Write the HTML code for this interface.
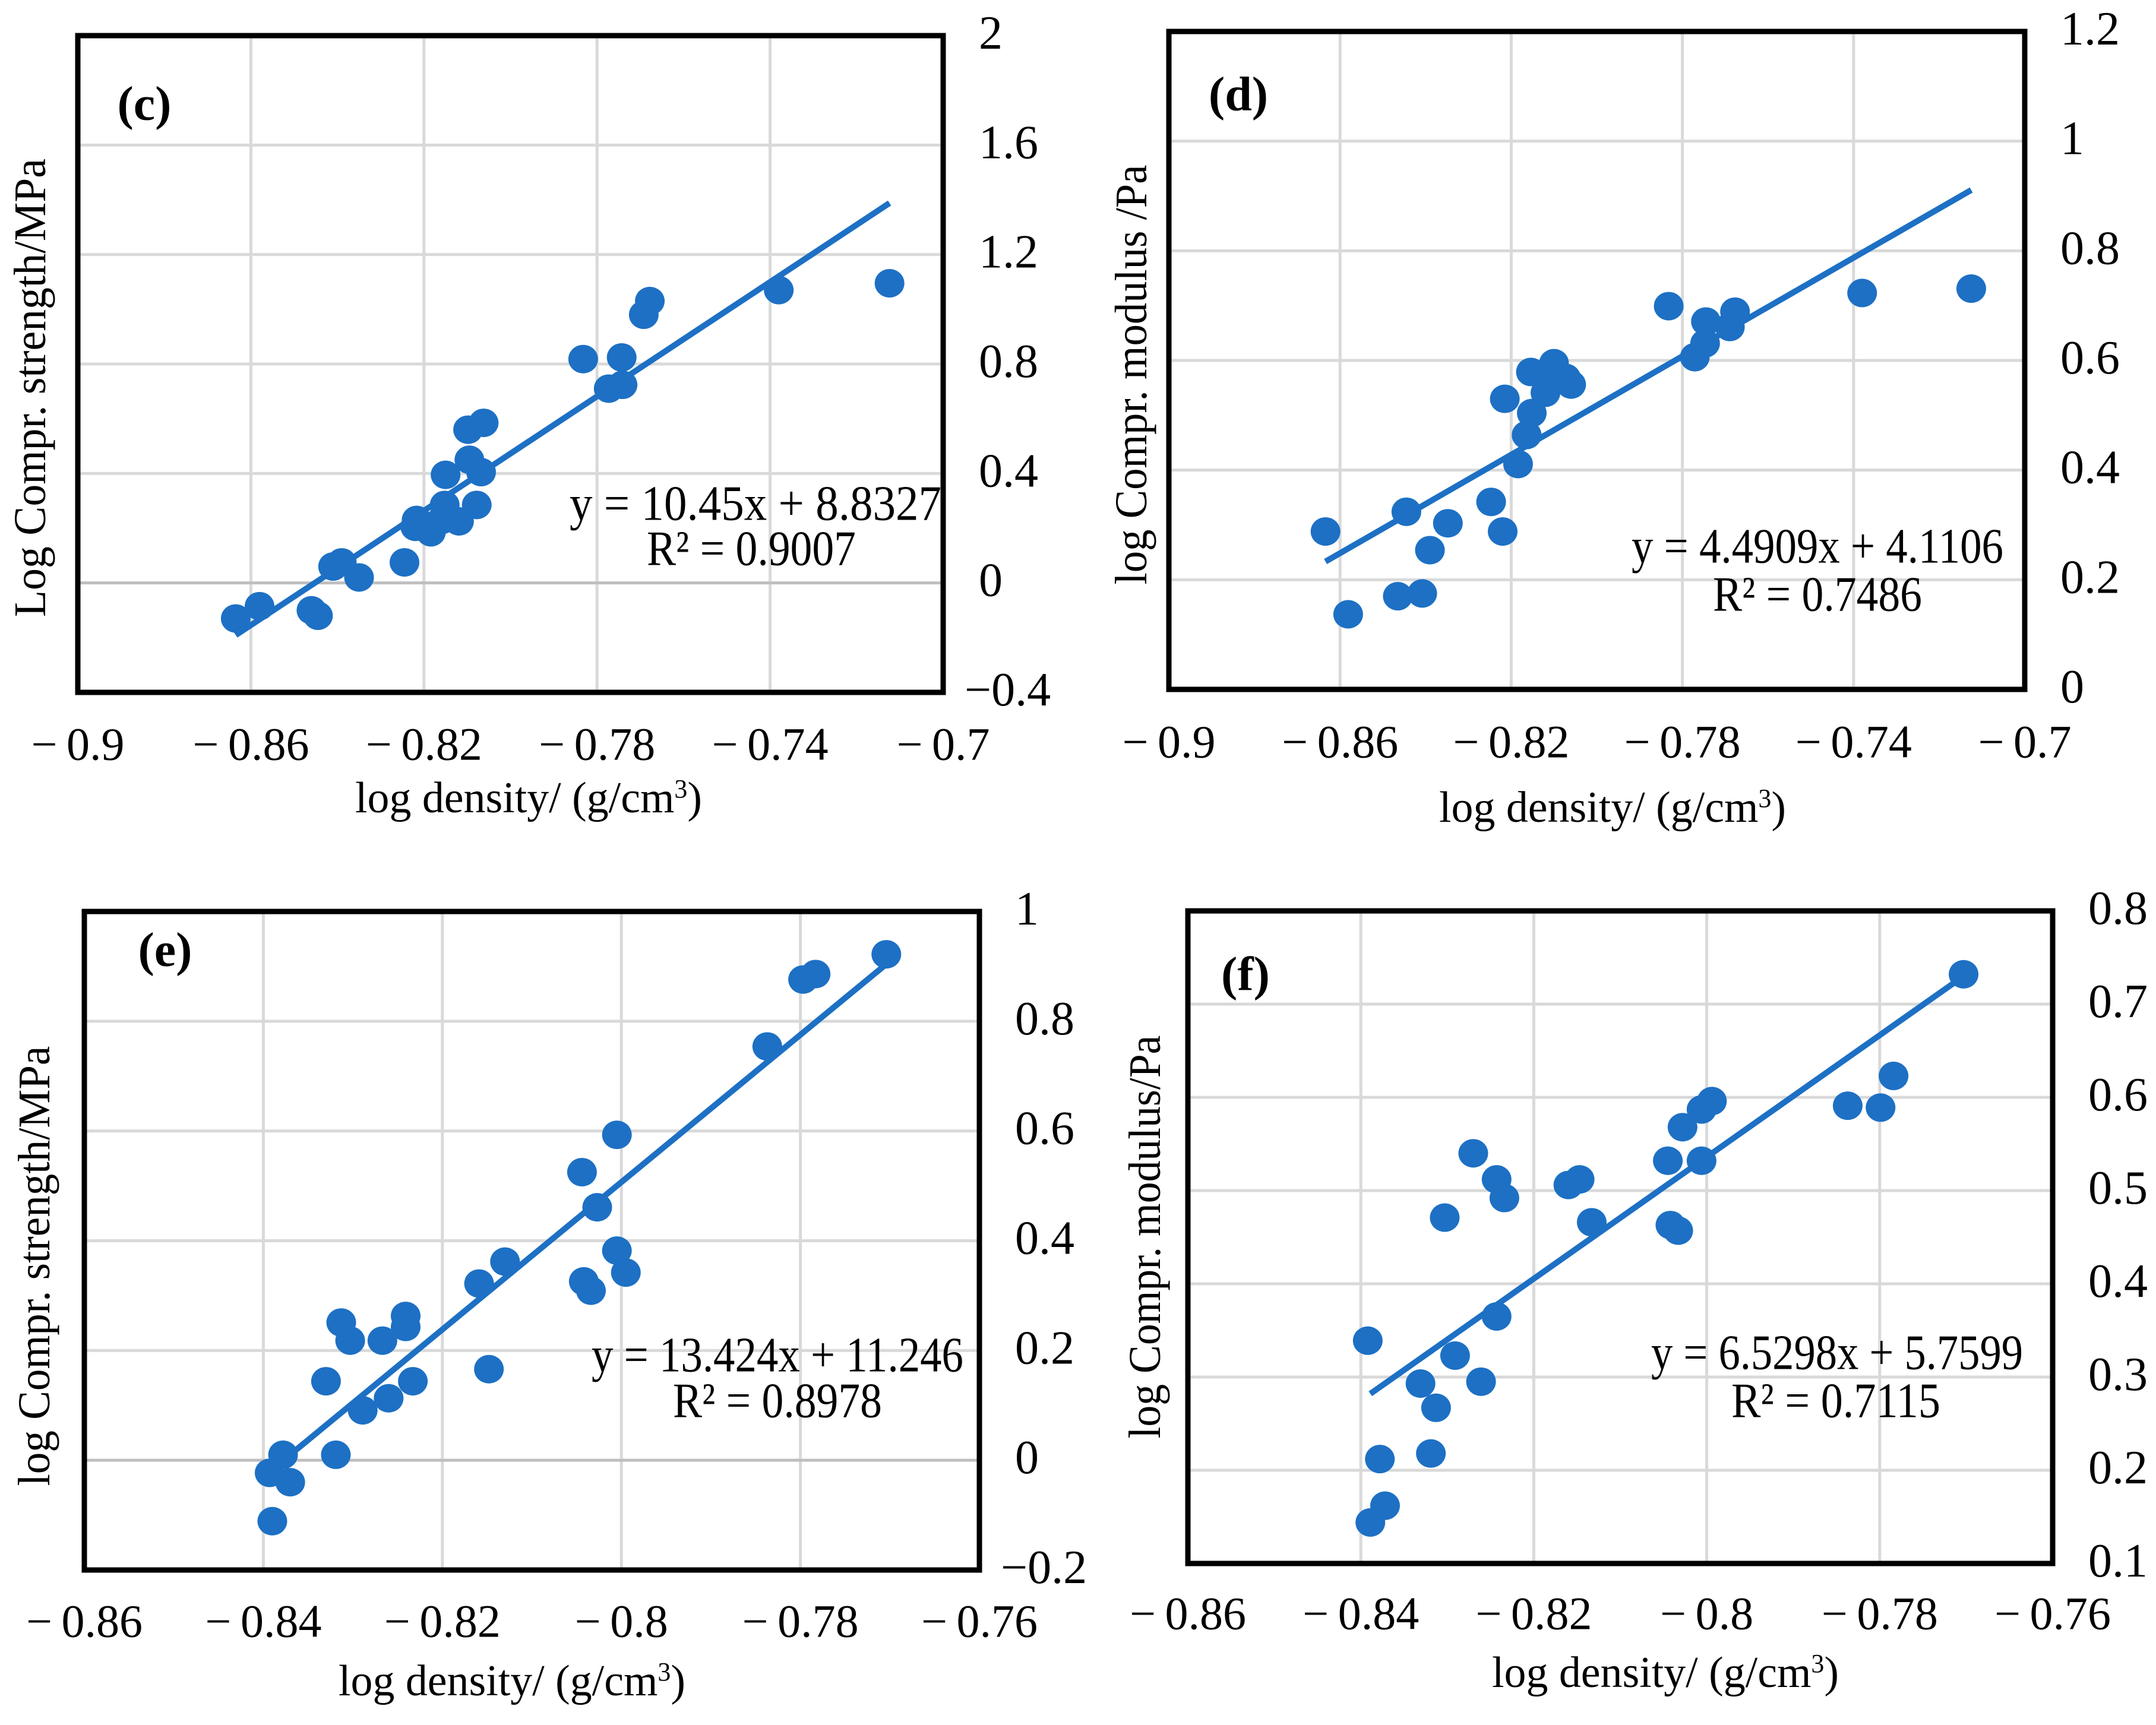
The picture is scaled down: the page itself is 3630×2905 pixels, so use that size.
<!DOCTYPE html>
<html><head><meta charset="utf-8"><style>
html,body{margin:0;padding:0;background:#fff;}
svg{display:block;font-family:"Liberation Serif",serif;}
text{font-family:"Liberation Serif",serif;fill:#000;}
</style></head><body>
<svg id="fig" width="3630" height="2905" viewBox="0 0 3630 2905" font-family="Liberation Serif, serif" xmlns="http://www.w3.org/2000/svg"></svg>
<script>
// ---- Data ----
const cX=[-0.8635,-0.858,-0.846,-0.8445,-0.841,-0.839,-0.835,-0.8245,-0.8217,-0.822,-0.8184,-0.8152,-0.8159,-0.815,-0.8119,-0.8078,-0.8095,-0.8068,-0.8098,-0.8062,-0.7832,-0.7743,-0.7773,-0.7741,-0.7692,-0.7678,-0.738,-0.7124];
const cY=[-0.13,-0.085,-0.10,-0.12,0.06,0.075,0.02,0.075,0.23,0.205,0.185,0.285,0.23,0.395,0.225,0.285,0.45,0.405,0.56,0.585,0.818,0.824,0.71,0.724,0.98,1.03,1.07,1.095];
const cFit=[10.45,8.8327,-0.8635,-0.7124];
const cXTicks=[-0.9,-0.86,-0.82,-0.78,-0.74,-0.7];
const cYTicks=[-0.4,0,0.4,0.8,1.2,1.6,2];
const cYTickLabels=["\u22120.4","0","0.4","0.8","1.2","1.6","2"];

const dX=[-0.8634,-0.8581,-0.8465,-0.8408,-0.8445,-0.839,-0.8348,-0.8247,-0.822,-0.8215,-0.8184,-0.8164,-0.8152,-0.8154,-0.812,-0.81,-0.8107,-0.8072,-0.806,-0.7832,-0.7771,-0.7745,-0.7747,-0.7689,-0.7677,-0.738,-0.7125];
const dY=[0.288,0.137,0.170,0.175,0.324,0.254,0.303,0.342,0.288,0.530,0.411,0.464,0.504,0.579,0.541,0.595,0.571,0.568,0.556,0.699,0.606,0.671,0.631,0.661,0.689,0.723,0.731];
const dFit=[4.4909,4.1106,-0.8634,-0.7125];
const dXTicks=[-0.9,-0.86,-0.82,-0.78,-0.74,-0.7];
const dYTicks=[0,0.2,0.4,0.6,0.8,1,1.2];
const dYTickLabels=["0","0.2","0.4","0.6","0.8","1","1.2"];

const eX=[-0.8390,-0.8393,-0.8378,-0.837,-0.8319,-0.833,-0.8313,-0.8303,-0.8289,-0.8267,-0.8260,-0.8241,-0.8241,-0.8233,-0.8159,-0.8130,-0.8148,-0.8044,-0.8042,-0.8034,-0.8027,-0.8005,-0.8005,-0.7995,-0.7837,-0.7797,-0.7783,-0.7704];
const eY=[-0.111,-0.023,0.010,-0.040,0.010,0.144,0.251,0.218,0.091,0.218,0.113,0.263,0.243,0.144,0.322,0.362,0.166,0.525,0.326,0.309,0.461,0.593,0.382,0.342,0.754,0.876,0.886,0.922];
const eFit=[13.424,11.246,-0.8378,-0.7704];
const eXTicks=[-0.86,-0.84,-0.82,-0.8,-0.78,-0.76];
const eYTicks=[-0.2,0,0.2,0.4,0.6,0.8,1];
const eYTickLabels=["\u22120.2","0","0.2","0.4","0.6","0.8","1"];

const fX=[-0.8389,-0.8372,-0.8378,-0.8392,-0.8319,-0.8331,-0.8313,-0.8291,-0.8261,-0.8243,-0.8303,-0.8270,-0.8243,-0.8234,-0.8160,-0.8147,-0.8133,-0.8045,-0.8042,-0.8033,-0.8028,-0.8006,-0.8006,-0.7994,-0.7837,-0.7799,-0.7784,-0.7703];
const fY=[0.144,0.162,0.212,0.339,0.218,0.293,0.267,0.323,0.295,0.365,0.471,0.540,0.512,0.492,0.506,0.512,0.466,0.532,0.463,0.457,0.568,0.532,0.587,0.596,0.591,0.589,0.623,0.732];
const fFit=[6.5298,5.7599,-0.8389,-0.7703];
const fXTicks=[-0.86,-0.84,-0.82,-0.8,-0.78,-0.76];
const fYTicks=[0.1,0.2,0.3,0.4,0.5,0.6,0.7,0.8];
const fYTickLabels=["0.1","0.2","0.3","0.4","0.5","0.6","0.7","0.8"];

const NS="http://www.w3.org/2000/svg";
const svg=document.getElementById('fig');
function mk(tag,attrs,parent){const e=document.createElementNS(NS,tag);for(const k in attrs)e.setAttribute(k,attrs[k]);(parent||svg).appendChild(e);return e;}
function fmtX(v){let s=String(Math.abs(v));return "\u2212\u2009"+s;}

function panel(p){
  const g=mk('g',{});
  
  
  const xs=v=>p.L+(v-p.xmin)/(p.xmax-p.xmin)*(p.R-p.L);
  const ys=v=>p.B-(v-p.ymin)/(p.ymax-p.ymin)*(p.B-p.T);
  p.xt.forEach((v,i)=>{ if(i>0&&i<p.xt.length-1){const l=mk('line',{x1:xs(v),x2:xs(v),y1:p.T,y2:p.B,stroke:'#d9d9d9','stroke-width':5},g);
    
    }});
  p.yt.forEach((v,i)=>{ if(i>0&&i<p.yt.length-1){const l=mk('line',{x1:p.L,x2:p.R,y1:ys(v),y2:ys(v),stroke:v===0?'#bfbfbf':'#d9d9d9','stroke-width':5},g);
    
    }});
  const box=mk('rect',{x:p.L,y:p.T,width:p.R-p.L,height:p.B-p.T,fill:'none',stroke:'#000','stroke-width':9},g);
  
  
  p.xt.forEach(v=>{const t=mk('text',{x:xs(v),y:p.B+p.xly,'font-size':78,'text-anchor':'middle','dominant-baseline':'central'},g);t.textContent=fmtX(v);
    
    });
  p.yt.forEach((v,i)=>{const neg=v<0;const t=mk('text',{x:p.R+(neg?36:60),y:ys(v)-4,'font-size':80,'dominant-baseline':'central'},g);t.textContent=p.ytl[i];
    
    });
  const tl=mk('line',{x1:xs(p.fit[2]),y1:ys(p.fit[0]*p.fit[2]+p.fit[1]),x2:xs(p.fit[3]),y2:ys(p.fit[0]*p.fit[3]+p.fit[1]),stroke:'#1d70c4','stroke-width':10},g);
  
  
  p.X.forEach((x,i)=>{const c=mk('ellipse',{cx:xs(x),cy:ys(p.Y[i]),rx:25,ry:24,fill:'#1d70c4'},g);
    
    });
  const lb=mk('text',{x:p.lab[0],y:p.lab[1],'font-size':82,'font-weight':'bold','text-anchor':'middle','dominant-baseline':'central'},g);lb.textContent='('+p.id+')';
  
  
  const eq=mk('text',{x:p.eq[0],y:p.eq[1],'font-size':84,'text-anchor':'middle','dominant-baseline':'central',textLength:626,lengthAdjust:'spacingAndGlyphs'},g);
  eq.textContent='y = '+p.fit[0]+'x + '+p.fit[1];
  
  
  const r2=mk('text',{x:p.r2[0],y:p.r2[1],'font-size':84,'text-anchor':'middle','dominant-baseline':'central',textLength:352,lengthAdjust:'spacingAndGlyphs'},g);
  r2.textContent='R\u00B2 = '+p.r2v;
  
  
  const xt=mk('text',{x:p.xt2[0],y:p.xt2[1],'font-size':74,'text-anchor':'middle','dominant-baseline':'central',textLength:584,lengthAdjust:'spacingAndGlyphs'},g);
  xt.innerHTML='log density/ (g/cm<tspan baseline-shift="35%" font-size="44">3</tspan>)';
  
  
  const yt=mk('text',{x:0,y:0,'font-size':76,'text-anchor':'middle','dominant-baseline':'central',textLength:p.yt2[2],lengthAdjust:'spacingAndGlyphs',transform:'translate('+p.yt2[0]+','+p.yt2[1]+') rotate(-90)'},g);
  yt.textContent=p.ytitle;
  
  
}

panel({id:'c',L:131,R:1588,T:60,B:1166,xmin:-0.9,xmax:-0.7,ymin:-0.4,ymax:2,xt:cXTicks,yt:cYTicks,ytl:cYTickLabels,X:cX,Y:cY,fit:cFit,xly:87,
  lab:[243,174],eq:[1272,848],r2:[1265,924],r2v:'0.9007',xt2:[890,1344],yt2:[51,653,772],ytitle:'Log Compr. strength/MPa'});
panel({id:'d',L:1968,R:3409,T:53,B:1161,xmin:-0.9,xmax:-0.7,ymin:0,ymax:1.2,xt:dXTicks,yt:dYTicks,ytl:dYTickLabels,X:dX,Y:dY,fit:dFit,xly:88,
  lab:[2085,158],eq:[3060,920],r2:[3060,1001],r2v:'0.7486',xt2:[2715,1360],yt2:[1905,631,707],ytitle:'log Compr. modulus /Pa'});
panel({id:'e',L:142,R:1649,T:1535,B:2644,xmin:-0.86,xmax:-0.76,ymin:-0.2,ymax:1,xt:eXTicks,yt:eYTicks,ytl:eYTickLabels,X:eX,Y:eY,fit:eFit,xly:86,
  lab:[278,1599],eq:[1309,2282],r2:[1309,2359],r2v:'0.8978',xt2:[862,2831],yt2:[58,2132,741],ytitle:'log Compr. strength/MPa'});
panel({id:'f',L:2000,R:3456,T:1534,B:2633,xmin:-0.86,xmax:-0.76,ymin:0.1,ymax:0.8,xt:fXTicks,yt:fYTicks,ytl:fYTickLabels,X:fX,Y:fY,fit:fFit,xly:84,
  lab:[2097,1640],eq:[3093,2278],r2:[3091,2359],r2v:'0.7115',xt2:[2804,2817],yt2:[1928,2083,679],ytitle:'log Compr. modulus/Pa'});
</script>
</body></html>
